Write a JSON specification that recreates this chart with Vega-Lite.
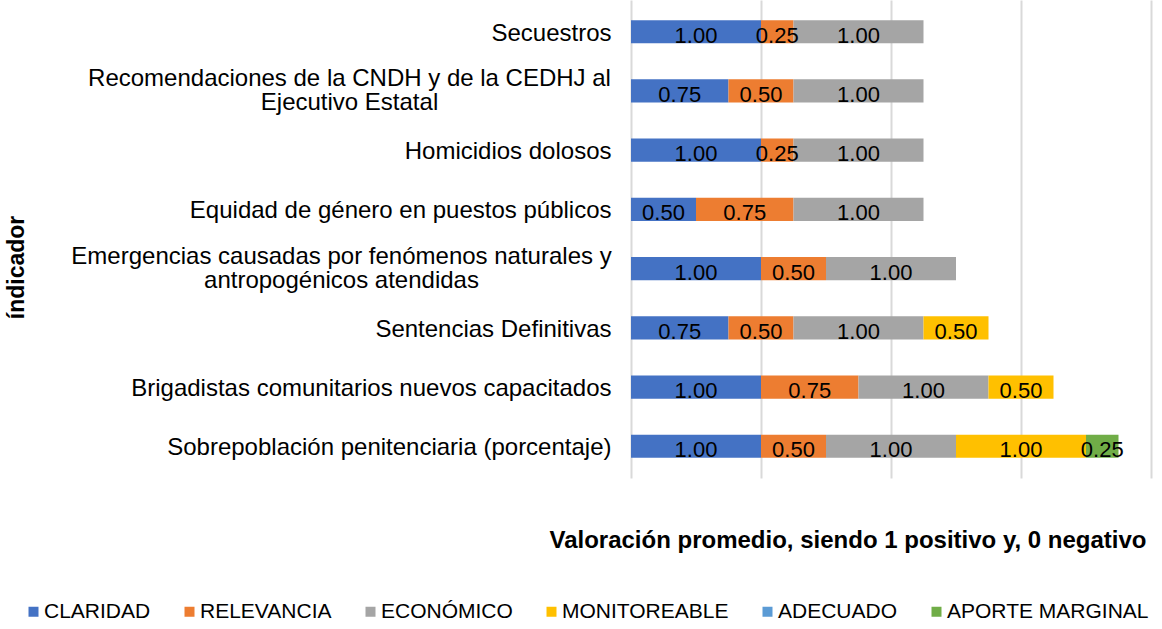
{
  "$schema": "https://vega.github.io/schema/vega-lite/v6.json",
  "width": 520,
  "height": 478,
  "padding": {"left": 5, "top": 0, "right": 12, "bottom": 5},
  "background": "white",
  "config": {"view": {"stroke": null}, "font": "Liberation Sans"},
  "data": {
    "values": [
      {"indicador": "Secuestros", "criterio": "CLARIDAD", "valor": 1.0},
      {"indicador": "Secuestros", "criterio": "RELEVANCIA", "valor": 0.25},
      {"indicador": "Secuestros", "criterio": "ECONÓMICO", "valor": 1.0},
      {"indicador": "Recomendaciones de la CNDH y de la CEDHJ al Ejecutivo Estatal", "criterio": "CLARIDAD", "valor": 0.75},
      {"indicador": "Recomendaciones de la CNDH y de la CEDHJ al Ejecutivo Estatal", "criterio": "RELEVANCIA", "valor": 0.5},
      {"indicador": "Recomendaciones de la CNDH y de la CEDHJ al Ejecutivo Estatal", "criterio": "ECONÓMICO", "valor": 1.0},
      {"indicador": "Homicidios dolosos", "criterio": "CLARIDAD", "valor": 1.0},
      {"indicador": "Homicidios dolosos", "criterio": "RELEVANCIA", "valor": 0.25},
      {"indicador": "Homicidios dolosos", "criterio": "ECONÓMICO", "valor": 1.0},
      {"indicador": "Equidad de género en puestos públicos", "criterio": "CLARIDAD", "valor": 0.5},
      {"indicador": "Equidad de género en puestos públicos", "criterio": "RELEVANCIA", "valor": 0.75},
      {"indicador": "Equidad de género en puestos públicos", "criterio": "ECONÓMICO", "valor": 1.0},
      {"indicador": "Emergencias causadas por fenómenos naturales y antropogénicos atendidas", "criterio": "CLARIDAD", "valor": 1.0},
      {"indicador": "Emergencias causadas por fenómenos naturales y antropogénicos atendidas", "criterio": "RELEVANCIA", "valor": 0.5},
      {"indicador": "Emergencias causadas por fenómenos naturales y antropogénicos atendidas", "criterio": "ECONÓMICO", "valor": 1.0},
      {"indicador": "Sentencias Definitivas", "criterio": "CLARIDAD", "valor": 0.75},
      {"indicador": "Sentencias Definitivas", "criterio": "RELEVANCIA", "valor": 0.5},
      {"indicador": "Sentencias Definitivas", "criterio": "ECONÓMICO", "valor": 1.0},
      {"indicador": "Sentencias Definitivas", "criterio": "MONITOREABLE", "valor": 0.5},
      {"indicador": "Brigadistas comunitarios nuevos capacitados", "criterio": "CLARIDAD", "valor": 1.0},
      {"indicador": "Brigadistas comunitarios nuevos capacitados", "criterio": "RELEVANCIA", "valor": 0.75},
      {"indicador": "Brigadistas comunitarios nuevos capacitados", "criterio": "ECONÓMICO", "valor": 1.0},
      {"indicador": "Brigadistas comunitarios nuevos capacitados", "criterio": "MONITOREABLE", "valor": 0.5},
      {"indicador": "Sobrepoblación penitenciaria (porcentaje)", "criterio": "CLARIDAD", "valor": 1.0},
      {"indicador": "Sobrepoblación penitenciaria (porcentaje)", "criterio": "RELEVANCIA", "valor": 0.5},
      {"indicador": "Sobrepoblación penitenciaria (porcentaje)", "criterio": "ECONÓMICO", "valor": 1.0},
      {"indicador": "Sobrepoblación penitenciaria (porcentaje)", "criterio": "MONITOREABLE", "valor": 1.0},
      {"indicador": "Sobrepoblación penitenciaria (porcentaje)", "criterio": "APORTE MARGINAL", "valor": 0.25}
    ]
  },
  "transform": [
    {"calculate": "indexof(['CLARIDAD','RELEVANCIA','ECONÓMICO','MONITOREABLE','ADECUADO','APORTE MARGINAL'], datum.criterio)", "as": "orden"}
  ],
  "encoding": {
    "y": {
      "field": "indicador",
      "type": "nominal",
      "sort": [
        "Secuestros",
        "Recomendaciones de la CNDH y de la CEDHJ al Ejecutivo Estatal",
        "Homicidios dolosos",
        "Equidad de género en puestos públicos",
        "Emergencias causadas por fenómenos naturales y antropogénicos atendidas",
        "Sentencias Definitivas",
        "Brigadistas comunitarios nuevos capacitados",
        "Sobrepoblación penitenciaria (porcentaje)"
      ],
      "scale": {"paddingInner": 0.61, "paddingOuter": 0.34},
      "axis": {
        "title": "índicador",
        "titleFont": "Liberation Sans",
        "titleFontSize": 23,
        "titleFontWeight": "bold",
        "titleColor": "black",
        "titleX": -603,
        "titleY": 267,
        "labelFont": "Liberation Sans",
        "labelFontSize": 24,
        "labelColor": "black",
        "labelLimit": 0,
        "labelLineHeight": 24,
        "ticks": false,
        "domain": false,
        "grid": false,
        "labelExpr": "datum.value == 'Recomendaciones de la CNDH y de la CEDHJ al Ejecutivo Estatal' ? ['Recomendaciones de la CNDH y de la CEDHJ al', 'Ejecutivo Estatal'] : datum.value == 'Emergencias causadas por fenómenos naturales y antropogénicos atendidas' ? ['Emergencias causadas por fenómenos naturales y', 'antropogénicos atendidas'] : datum.label",
        "labelAlign": {
          "condition": {"test": "datum.value == 'Recomendaciones de la CNDH y de la CEDHJ al Ejecutivo Estatal' || datum.value == 'Emergencias causadas por fenómenos naturales y antropogénicos atendidas'", "value": "center"},
          "value": "right"
        },
        "labelPadding": {
          "condition": [
            {"test": "datum.value == 'Recomendaciones de la CNDH y de la CEDHJ al Ejecutivo Estatal'", "value": 282},
            {"test": "datum.value == 'Emergencias causadas por fenómenos naturales y antropogénicos atendidas'", "value": 290}
          ],
          "value": 20
        },
        "labelOffset": {
          "condition": {"test": "datum.value == 'Recomendaciones de la CNDH y de la CEDHJ al Ejecutivo Estatal' || datum.value == 'Emergencias causadas por fenómenos naturales y antropogénicos atendidas'", "value": -12},
          "value": 2
        }
      }
    },
    "x": {
      "field": "valor",
      "type": "quantitative",
      "stack": "zero",
      "scale": {"domain": [0, 4], "nice": false},
      "axis": {
        "title": "Valoración promedio, siendo 1 positivo y, 0 negativo",
        "titleFont": "Liberation Sans",
        "titleFontSize": 24,
        "titleFontWeight": "bold",
        "titleColor": "black",
        "titleAnchor": "end",
        "titleX": 515,
        "titlePadding": 50,
        "labels": false,
        "ticks": false,
        "domain": false,
        "grid": true,
        "gridColor": "#d9d9d9",
        "gridWidth": 2,
        "values": [0, 1, 2, 3, 4]
      }
    },
    "order": {"field": "orden", "type": "quantitative"}
  },
  "layer": [
    {
      "mark": {"type": "bar"},
      "encoding": {
        "color": {
          "field": "criterio",
          "type": "nominal",
          "scale": {
            "domain": ["CLARIDAD", "RELEVANCIA", "ECONÓMICO", "MONITOREABLE", "ADECUADO", "APORTE MARGINAL"],
            "range": ["#4472C4", "#ED7D31", "#A5A5A5", "#FFC000", "#5B9BD5", "#70AD47"]
          },
          "legend": {
            "title": null,
            "orient": "none",
            "legendX": -608,
            "legendY": 601,
            "padding": 0,
            "direction": "horizontal",
            "symbolType": "square",
            "symbolSize": 100,
            "symbolStrokeWidth": 0,
            "labelFont": "Liberation Sans",
            "labelFontSize": 21,
            "labelColor": "black",
            "labelOffset": 0,
            "columnPadding": 28,
            "labelLimit": 0
          }
        }
      }
    },
    {
      "mark": {"type": "text", "font": "Liberation Sans", "fontSize": 22, "color": "black", "baseline": "middle", "dy": 4},
      "encoding": {
        "x": {"field": "valor", "type": "quantitative", "stack": "zero", "bandPosition": 0.5},
        "detail": {"field": "criterio"},
        "text": {"field": "valor", "type": "quantitative", "format": ".2f"}
      }
    }
  ]
}
